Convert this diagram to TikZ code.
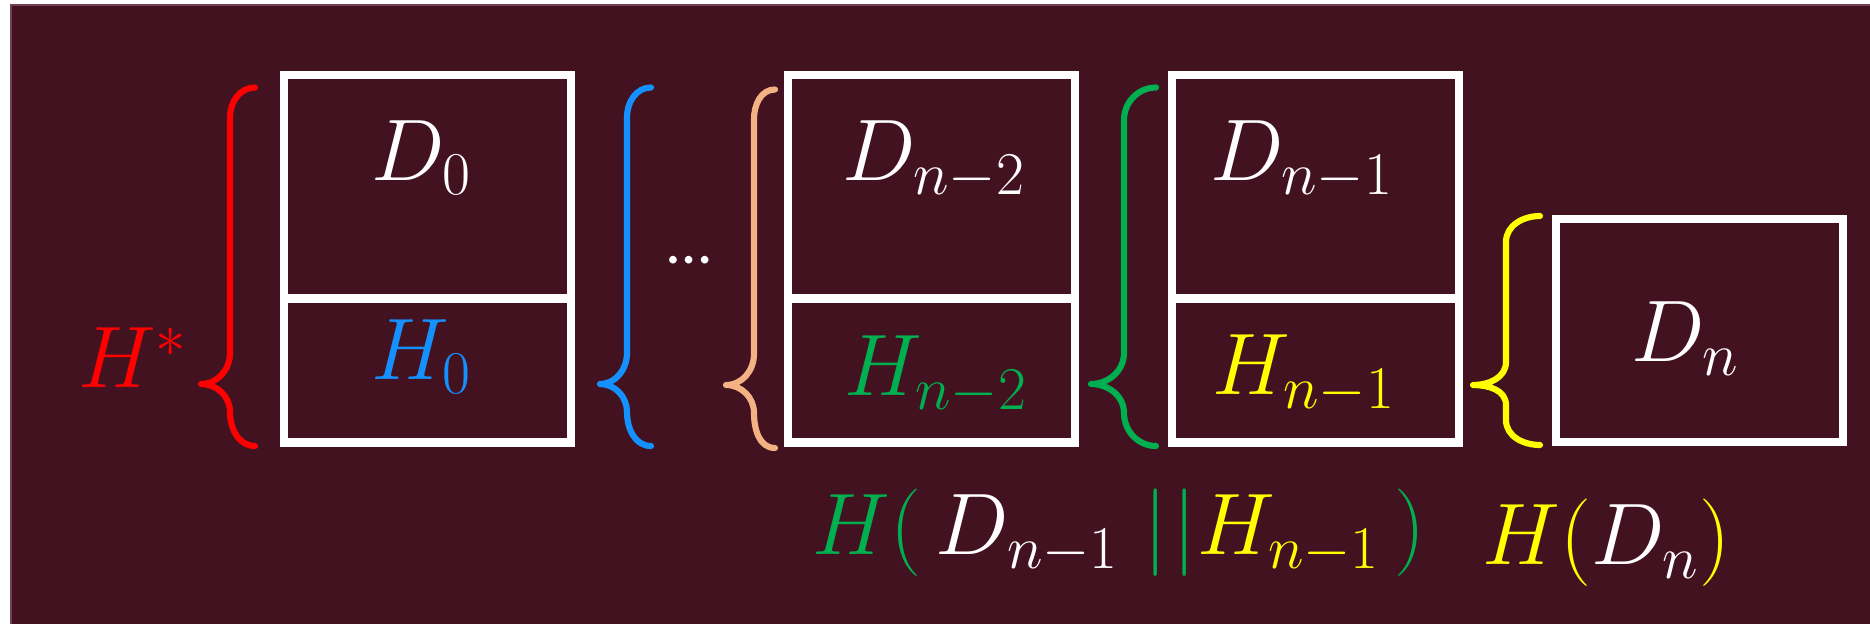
\documentclass[tikz,border=0pt]{standalone}
\usepackage{fontspec}
\newfontfamily\dotsfont{Carlito}
\usetikzlibrary{positioning}
\definecolor{wine}{HTML}{421221}
\definecolor{wineedge}{HTML}{74404F}
\definecolor{hred}{HTML}{FF0000}
\definecolor{hblue}{HTML}{1590FF}
\definecolor{hpeach}{HTML}{F4B183}
\definecolor{hgreen}{HTML}{00B050}
\definecolor{hyellow}{HTML}{FFFF00}
\tikzset{
  cell/.style={draw=white,line width=2.3pt,minimum width=2.87cm,inner sep=0pt,outer sep=0pt},
  curly/.style={line width=1.75pt,line cap=round,line join=round},
  mathlbl/.style={font=\fontsize{24}{28}\selectfont,text=white,inner sep=0pt,anchor=base},
}

\begin{document}
\begin{tikzpicture}[x=1cm,y=1cm]
  \useasboundingbox (0,0) rectangle (18.70,-6.24);
  \fill[white] (0,0) rectangle (18.70,-6.24);
  \fill[wineedge] (0.10,-0.045) rectangle (18.70,-6.24);
  \fill[wine] (0.115,-0.06) rectangle (18.70,-6.24);

  % blocks
  \node[cell,minimum height=2.235cm,anchor=north west] (d0) at (2.84,-0.75) {};
  \node[cell,minimum height=1.44cm,below=0pt of d0] (h0) {};
  \node[cell,minimum height=2.235cm,anchor=north west] (dn2) at (7.88,-0.75) {};
  \node[cell,minimum height=1.44cm,below=0pt of dn2] (hn2) {};
  \node[cell,minimum height=2.235cm,anchor=north west] (dn1) at (11.72,-0.75) {};
  \node[cell,minimum height=1.44cm,below=0pt of dn1] (hn1) {};
  \node[cell,minimum height=2.23cm,anchor=north west] (dn) at (15.56,-2.19) {};

  \node[mathlbl] (d0txt) at (4.22,-1.81) {$D_0$};
  \node[mathlbl,text=hblue] (h0txt) at (4.22,-3.80) {$H_0$};
  \node[mathlbl] (dn2txt) at (9.34,-1.81) {$D_{n-2}$};
  \node[mathlbl,text=hgreen] (hn2txt) at (9.36,-3.96) {$H_{n-2}$};
  \node[mathlbl] (dn1txt) at (13.02,-1.81) {$D_{n-1}$};
  \node[mathlbl,text=hyellow] (hn1txt) at (13.04,-3.95) {$H_{n-1}$};
  \node[mathlbl] (dntxt) at (16.86,-3.62) {$D_n$};

  \node[mathlbl,text=hred] (hstar) at (1.33,-3.88) {$H^*$};
  \node[font=\dotsfont\fontsize{18}{20}\selectfont,text=white,inner sep=0pt] (gap) at (6.89,-2.60) {…};

  % braces
  \draw[curly,hred] (2.55,-0.875) to[out=180,in=90] (2.30,-1.17) -- (2.30,-3.53)
    to[out=-90,in=0] (2.01,-3.84) to[out=0,in=90] (2.30,-4.12) to[out=-90,in=180] (2.55,-4.46);
  \draw[curly,hblue] (6.51,-0.875) to[out=180,in=90] (6.27,-1.17) -- (6.27,-3.53)
    to[out=-90,in=0] (6.00,-3.84) to[out=0,in=90] (6.27,-4.12) to[out=-90,in=180] (6.51,-4.46);
  \draw[curly,hpeach] (7.75,-0.895) to[out=180,in=90] (7.54,-1.19) -- (7.54,-3.54)
    to[out=-90,in=0] (7.26,-3.85) to[out=0,in=90] (7.54,-4.13) to[out=-90,in=180] (7.75,-4.48);
  \draw[curly,hgreen] (11.56,-0.875) to[out=180,in=90] (11.24,-1.20) -- (11.24,-3.53)
    to[out=-90,in=0] (10.91,-3.84) to[out=0,in=90] (11.24,-4.13) to[out=-90,in=180] (11.56,-4.46);
  \draw[curly,hyellow] (15.40,-2.16) to[out=180,in=90] (15.06,-2.42) -- (15.06,-3.62)
    to[out=-90,in=0] (14.73,-3.85) to[out=0,in=90] (15.06,-4.05) -- (15.06,-4.20)
    to[out=-90,in=180] (15.40,-4.45);

  % hashes
  \node[mathlbl,anchor=base west] (hashn1) at (8.12,-5.55)
    {$\color{hgreen}H(\,\color{white}D_{n-1}\;\color{hgreen}|\mkern1mu|\color{hyellow}H_{n-1}\,\color{hgreen})$};
  \node[mathlbl,anchor=base west] (hashn) at (14.82,-5.65)
    {$\color{hyellow}H(\color{white}D_n\color{hyellow})$};
\end{tikzpicture}
\end{document}
